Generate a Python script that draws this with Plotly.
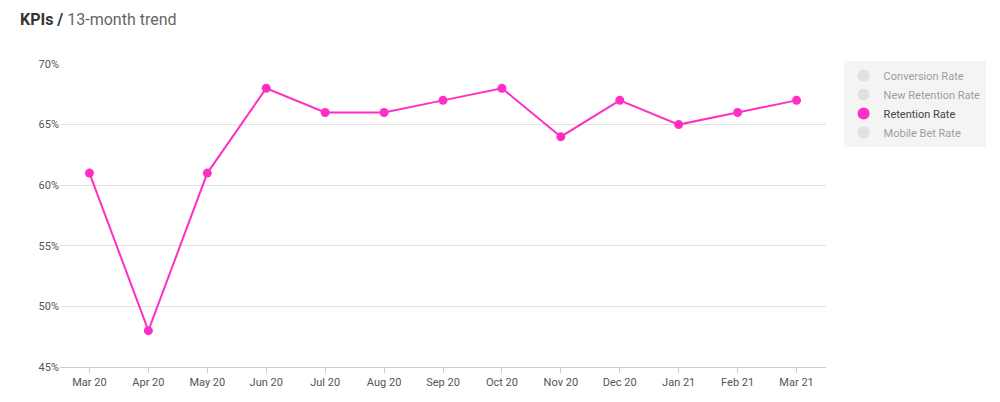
import plotly.graph_objects as go

months = ["Mar 20", "Apr 20", "May 20", "Jun 20", "Jul 20", "Aug 20", "Sep 20",
          "Oct 20", "Nov 20", "Dec 20", "Jan 21", "Feb 21", "Mar 21"]
retention = [0.61, 0.48, 0.61, 0.68, 0.66, 0.66, 0.67, 0.68, 0.64, 0.67, 0.65, 0.66, 0.67]
hidden_series = ["Conversion Rate", "New Retention Rate", "Mobile Bet Rate"]

pink = "#ff2fc4"

fig = go.Figure()
fig.add_trace(go.Scatter(x=months, y=retention, name="Retention Rate", mode="lines+markers",
                         showlegend=False,
                         line=dict(color=pink, width=2), marker=dict(color=pink, size=9)))
for name in hidden_series[:2]:
    fig.add_trace(go.Scatter(x=[None], y=[None], name=name, mode="markers",
                             visible="legendonly", marker=dict(color="#cccccc", size=9)))
fig.add_trace(go.Scatter(x=[None], y=[None], name="Retention Rate", mode="markers",
                         marker=dict(color=pink, size=9)))
fig.add_trace(go.Scatter(x=[None], y=[None], name=hidden_series[2], mode="markers",
                         visible="legendonly", marker=dict(color="#cccccc", size=9)))

fig.update_layout(
    width=1000, height=402,
    paper_bgcolor="white", plot_bgcolor="white",
    margin=dict(l=52, r=182, t=56, b=43),
    font=dict(family="Roboto", size=11, color="#555555"),
    title=dict(text="<b>KPIs /</b> <span style='color:#666'>13-month trend</span>",
               x=0.012, y=0.985, xanchor="left", yanchor="top",
               font=dict(size=16, color="#333333")),
    legend=dict(x=1.023, y=1.01, xanchor="left", yanchor="top", bgcolor="#f4f4f4",
                font=dict(size=11, color="#444444"), itemsizing="constant",
                borderwidth=0, tracegroupgap=0),
    xaxis=dict(type="category", categoryorder="array", categoryarray=months,
               showgrid=False, showline=True, linecolor="#cccccc", ticks="outside",
               tickcolor="#cccccc", ticklen=5, tickfont=dict(size=11, color="#555555"),
               range=[-0.5, 12.5]),
    yaxis=dict(range=[0.45, 0.70], dtick=0.05, tickformat=".0%", gridcolor="#e3e3e3",
               zeroline=False, tickfont=dict(size=11, color="#555555"), ticks="",
               showline=False),
)

fig.write_html("out.html")
